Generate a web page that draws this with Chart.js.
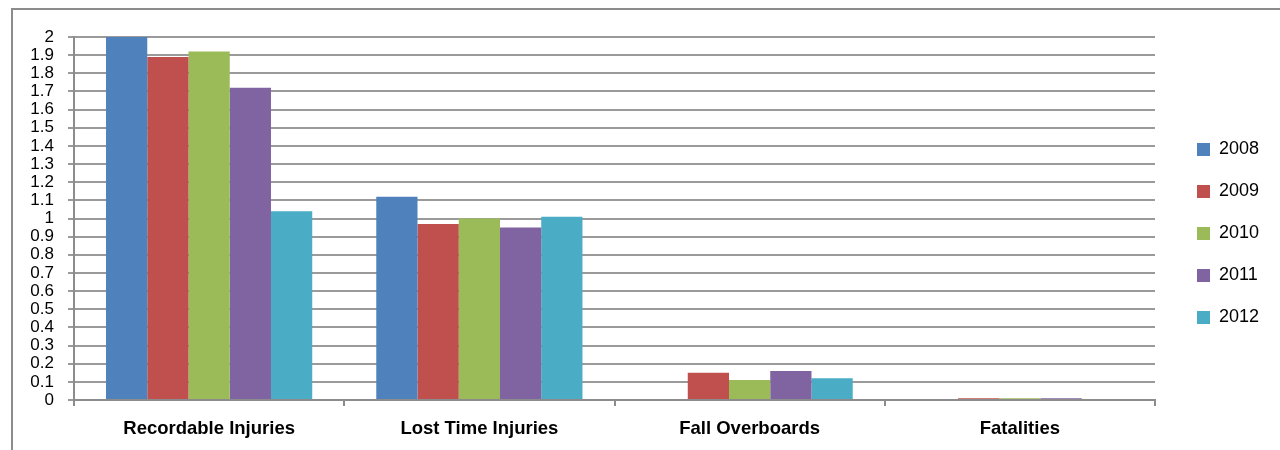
<!DOCTYPE html>
<html>
<head>
<meta charset="utf-8">
<script src="https://cdn.jsdelivr.net/npm/chart.js@4.4.1/dist/chart.umd.min.js"></script>
<style>
  html, body { margin: 0; padding: 0; background: #fff; }
  #wrap { width: 1280px; height: 450px; position: relative; }
</style>
</head>
<body>
<div id="wrap"><canvas id="c" width="1280" height="450"></canvas></div>
<script>
const categories = ["Recordable Injuries", "Lost Time Injuries", "Fall Overboards", "Fatalities"];
const seriesNames = ["2008", "2009", "2010", "2011", "2012"];
const v2008 = [2.00, 1.12, 0.00, 0.00];
const v2009 = [1.89, 0.97, 0.15, 0.01];
const v2010 = [1.92, 1.00, 0.11, 0.01];
const v2011 = [1.72, 0.95, 0.16, 0.01];
const v2012 = [1.04, 1.01, 0.12, 0.00];
const colors = ["#4F81BD", "#C0504D", "#9BBB59", "#8064A2", "#4BACC6"];
const allValues = [v2008, v2009, v2010, v2011, v2012];

const FONT = "'Liberation Sans', Arial, sans-serif";

const borderPlugin = {
  id: 'outerBorder',
  beforeDraw(chart) {
    const ctx = chart.ctx;
    ctx.save();
    ctx.strokeStyle = '#8c8c8c';
    ctx.lineWidth = 2;
    ctx.strokeRect(12, 9, 1300, 500);
    ctx.restore();
  }
};

const legendFitPlugin = {
  id: 'legendFit',
  afterInit(chart) {
    const lg = chart.legend;
    if (lg) {
      const orig = lg.fit.bind(lg);
      lg.fit = function () { orig(); this.width = 125; };
    }
  },
  afterLayout(chart) {
    const lg = chart.legend;
    if (lg) { lg.left += 18; lg.right += 18; lg.top -= 10; lg.bottom -= 10; }
  }
};

new Chart(document.getElementById('c'), {
  type: 'bar',
  data: {
    labels: categories,
    datasets: seriesNames.map((n, i) => ({
      label: n,
      data: allValues[i],
      backgroundColor: colors[i],
      borderWidth: 0,
      barPercentage: 1.0,
      categoryPercentage: 0.763
    }))
  },
  options: {
    responsive: false,
    animation: false,
    layout: { padding: { left: 10, top: 37, right: 0, bottom: 0 } },
    plugins: {
      legend: {
        position: 'right',
        labels: {
          font: { family: FONT, size: 18 },
          color: '#000',
          boxWidth: 13,
          boxHeight: 13,
          padding: 24
        }
      },
      tooltip: { enabled: false }
    },
    scales: {
      x: {
        afterFit(scale) { scale.height = 50; },
        grid: { display: true, drawOnChartArea: false, drawTicks: true, tickLength: 6, color: '#8c8c8c', lineWidth: 2, offset: true },
        border: { display: true, color: '#8c8c8c', width: 2 },
        ticks: { font: { family: FONT, size: 18.5, weight: 'bold' }, color: '#000', padding: 12, maxRotation: 0 }
      },
      y: {
        min: 0, max: 2,
        afterFit(scale) { scale.width = 64; },
        grid: { color: '#9a9a9a', lineWidth: 2, tickLength: 6 },
        border: { display: true, color: '#8c8c8c', width: 2 },
        ticks: {
          stepSize: 0.1,
          autoSkip: false,
          font: { family: FONT, size: 17 },
          color: '#000',
          padding: 14,
          callback: (v) => String(Math.round(v * 10) / 10)
        }
      }
    }
  },
  plugins: [borderPlugin, legendFitPlugin]
});
</script>
</body>
</html>
